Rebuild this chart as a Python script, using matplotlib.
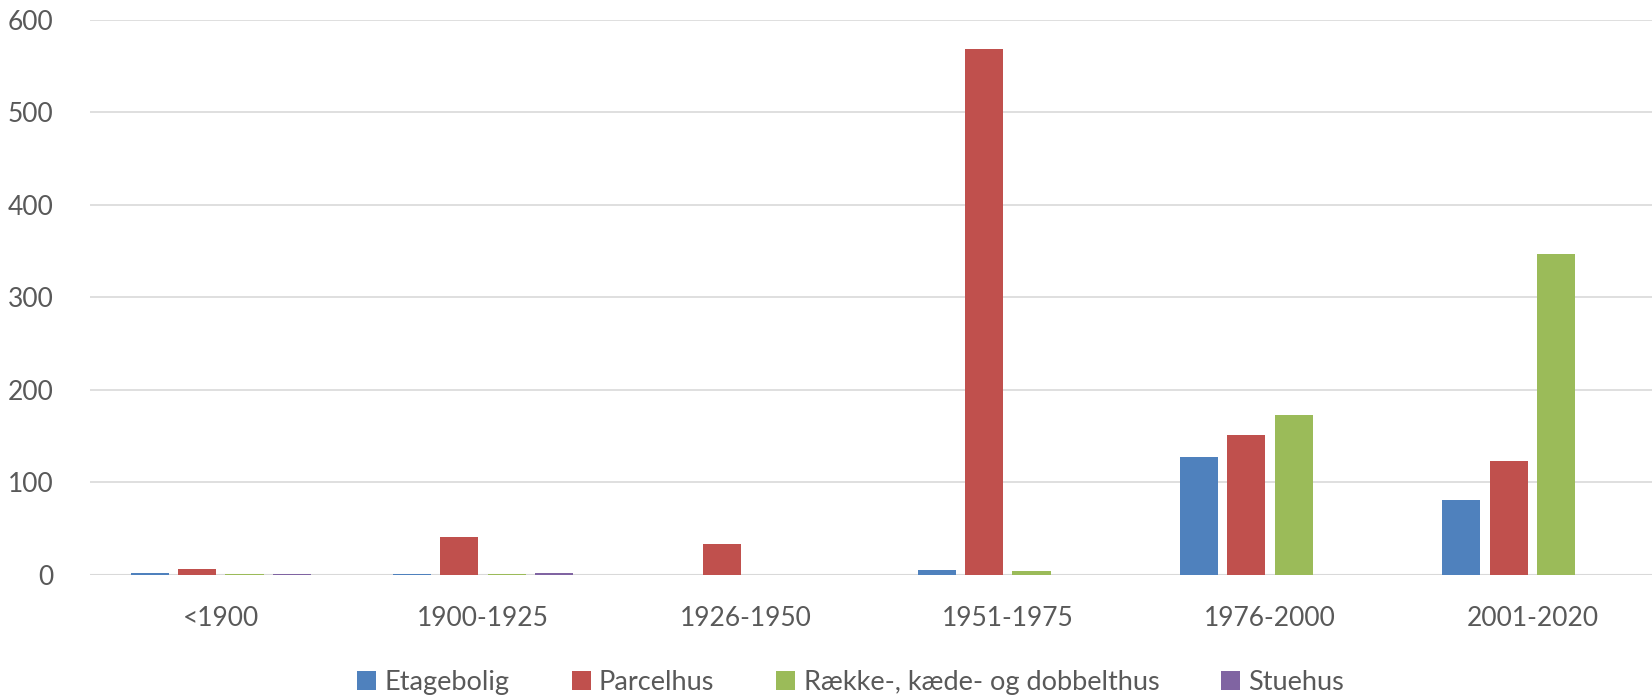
import numpy as np
import matplotlib.pyplot as plt
from matplotlib.patches import Patch

plt.rcParams['font.family'] = ['Lato', 'DejaVu Sans']

# data
perioder = ['<1900', '1900-1925', '1926-1950', '1951-1975', '1976-2000', '2001-2020']
etagebolig = [2.5, 1, 0, 5, 127, 81]
parcelhus = [6, 41, 34, 569, 151, 123]
raekkehus = [1.2, 1.2, 0.4, 4, 173, 347]
stuehus = [1.2, 2.5, 0.4, 0, 0, 0]

serier = ['Etagebolig', 'Parcelhus', 'Række-, kæde- og dobbelthus', 'Stuehus']
farver = ['#4F81BD', '#C0504D', '#9BBB59', '#8064A2']
vaerdier = [etagebolig, parcelhus, raekkehus, stuehus]

tekst = '#595959'

fig = plt.figure(figsize=(16.52, 7), dpi=100)
# the original chart is slightly cut off on the right
ax = fig.add_axes([89.6 / 1652, 0.1786, 1574 / 1652, 0.7929])

x = np.arange(len(perioder))
bredde = 0.145
trin = 0.181
for i, (navn, farve, v) in enumerate(zip(serier, farver, vaerdier)):
    ax.bar(x + (i - 1.5) * trin, v, bredde, color=farve, label=navn, zorder=3)

ax.set_xlim(-0.5, len(perioder) - 0.5)
ax.set_ylim(0, 600)
ax.set_yticks(range(0, 601, 100))
ax.yaxis.grid(True, color='#d9d9d9', linewidth=1.2, zorder=0)
ax.axhline(0, color='#d9d9d9', linewidth=2.2, zorder=2)

for s in ax.spines.values():
    s.set_visible(False)
ax.tick_params(axis='both', length=0, labelsize=19, colors=tekst)
ax.tick_params(axis='y', pad=26)
ax.tick_params(axis='x', pad=22)
ax.set_xticks(x)
ax.set_xticklabels(perioder)

handles = [Patch(facecolor=f, label=n) for n, f in zip(serier, farver)]
fig.legend(handles=handles, loc='center', bbox_to_anchor=(0.515, 0.025),
           ncol=4, frameon=False, fontsize=19.5, labelcolor=tekst,
           handlelength=0.7, handleheight=0.7, handletextpad=0.3,
           columnspacing=2.3)

fig.savefig('out.png', dpi=100)
